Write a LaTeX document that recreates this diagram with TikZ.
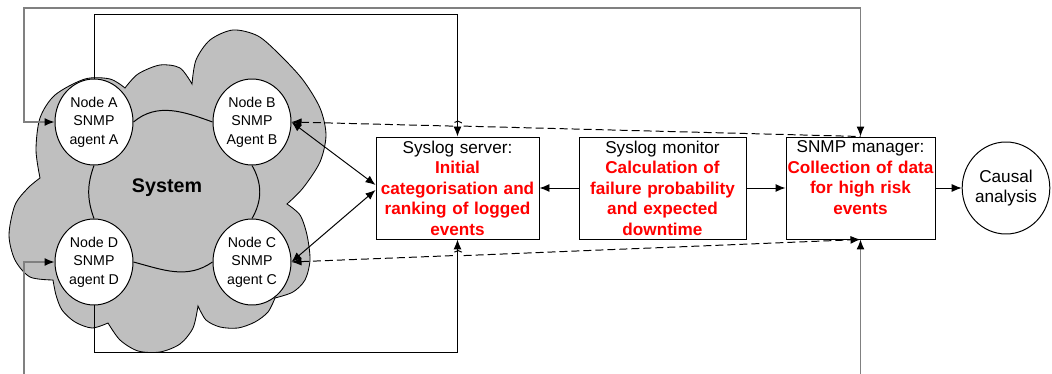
\documentclass[tikz,border=0pt]{standalone}
\usepackage{fontspec}
\setmainfont{Liberation Sans}
\usepackage{xcolor}
\usetikzlibrary{arrows.meta,positioning,calc,shapes.geometric}

\tikzset{
	agent/.style={draw, fill=white, ellipse, minimum width=19.5mm, minimum height=21.5mm, inner sep=0pt, align=center, font=\fontsize{10.1}{13.1}\selectfont},
	stage/.style={draw, fill=white, inner xsep=0pt, inner ysep=0pt, minimum height=25.5mm, align=center, font=\fontsize{12.2}{14.6}\selectfont},
	flow/.style={line width=0.7pt},
	loopback/.style={line width=0.9pt, draw=black!50},
	poll/.style={line width=0.7pt, dash pattern=on 2mm off 1mm},
	cloud/.style={draw, fill=black!25, line width=0.6pt}
}
\newcommand{\task}[1]{\textcolor{red}{\bfseries #1}}

\begin{document}
\begin{tikzpicture}[x=0.25mm, y=-0.25mm, line width=0.7pt, >={Latex[length=2.5mm,width=2mm,color=black]}]
	\useasboundingbox (0,0) rectangle (1052,374);
	
	% the system cloud
	\filldraw[cloud] (40,178)
		-- plot[smooth] coordinates {(40,178) (36,150) (40,118) (55,95) (85,79) (110,79) (125,88)}
		-- plot[smooth] coordinates {(125,88) (138,74) (160,65) (180,68) (192,84)}
		-- plot[smooth] coordinates {(192,84) (196,60) (210,40) (233,30) (258,36) (280,55) (303,80) (320,108) (326,135) (320,162) (303,188) (287,204)}
		-- plot[smooth] coordinates {(287,204) (300,215) (307,235) (310,260) (305,280) (293,292) (275,298)}
		-- plot[smooth] coordinates {(275,298) (268,312) (255,322) (238,328) (220,327) (206,320) (198,306)}
		-- plot[smooth] coordinates {(198,306) (193,328) (180,344) (160,352) (138,351) (120,340) (108,323)}
		-- plot[smooth] coordinates {(108,323) (92,328) (75,322) (62,310) (56,295) (53,280)}
		-- plot[smooth] coordinates {(53,280) (30,277) (15,260) (9,235) (15,205) (28,188) (40,178)}
		-- cycle;
	\node[font=\fontsize{14}{16}\selectfont\bfseries] (sys) at (167,188) {System};
	
	% agents
	\node[agent] (A) at (94,122) {Node A\\SNMP\\agent A};
	\node[agent] (B) at (252,122) {Node B\\SNMP\\Agent B};
	\node[agent] (C) at (252,262) {Node C\\SNMP\\agent C};
	\node[agent] (D) at (94,262) {Node D\\SNMP\\agent D};
	\draw[flow] (A.east) to[out=40,in=160] (B.west);
	\draw[flow] (B.south) to[out=-60,in=60] (C.north);
	\draw[flow] (D.east) to[out=-15,in=-145] (C.west);
	\draw[flow] (A.south) to[out=-110,in=110] (D.north);
	
	% processing chain
	\node[stage, text width=40.75mm] (srv) at (457.5,188) {Syslog server:\\\task{Initial\\categorisation and\\ranking of logged\\events}};
	\node[stage, text width=41.75mm] (mon) at (662.5,188) {Syslog monitor\\\task{Calculation of\\failure probability\\and expected\\downtime}};
	\node[stage, text width=37.25mm] (mgr) at (860.5,188) {SNMP manager:\\\task{Collection of data\\for high risk\\events}\\\mbox{}};
	\node[draw, ellipse, minimum width=21mm, minimum height=23mm, inner sep=0pt, align=center, font=\fontsize{12.2}{14.6}\selectfont] (cause) at (1006,188) {Causal\\analysis};
	
	\draw[flow,->] (mon.west) -- (srv.east);
	\draw[flow,->] (mon.east) -- (mgr.west);
	\draw[flow,->] (mgr.east) -- (cause.west);
	\draw[flow,<->] (B.east) -- ($(srv.west)+(0,-3)$);
	\draw[flow,<->] (C.east) -- ($(srv.west)+(0,2)$);
	
	% wiring round the outside
	\coordinate (tl) at (24,8);
	\coordinate (bl) at (24,374);
	\coordinate (br) at (mgr.south |- 0,374);
	\coordinate (ti) at (srv.north |- 0,14);
	\coordinate (bi) at (srv.south |- 0,352);
	\draw[loopback,<->] (A.west) -| (tl) -| (mgr.north);
	\draw[loopback,->] (bl) |- (D.west);
	\draw[loopback,->] (br) -- (mgr.south);
	\draw[flow,->] (A.north) |- (ti) -- (srv.north);
	\draw[flow,->] (D.south) |- (bi) -- (srv.south);
	
	% polling, hopping over the server wires
	\coordinate (hb) at ($(B.east)!(srv.north)!(mgr.north)$);
	\coordinate (hc) at ($(C.east)!(srv.south)!(mgr.south)$);
	\draw[poll,<-] (B.east) -- ($(hb)!1.25mm!(B.east)$) arc[start angle=180,end angle=0,radius=1.25mm] -- (mgr.north);
	\draw[poll,<->] (C.east) -- ($(hc)!1.25mm!(C.east)$) arc[start angle=180,end angle=0,radius=1.25mm] -- (mgr.south);
\end{tikzpicture}
\end{document}
